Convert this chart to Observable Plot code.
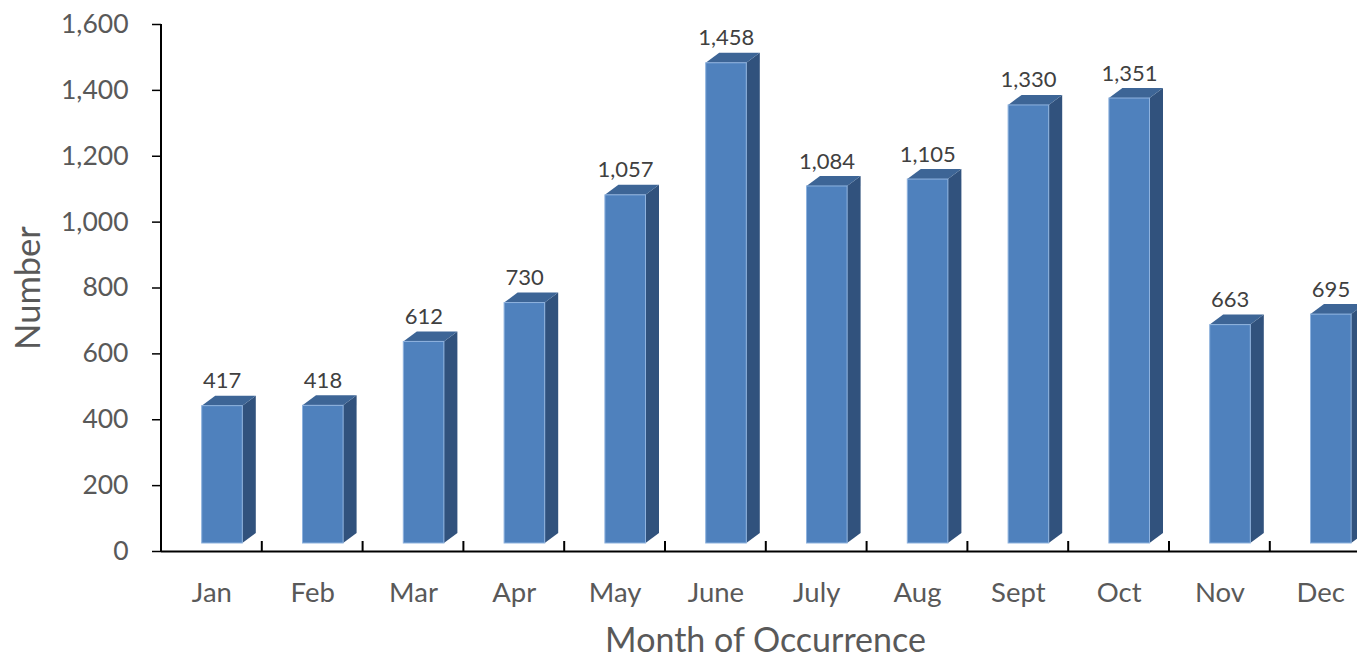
<!DOCTYPE html>
<html><head><meta charset="utf-8">
<script src="https://cdn.jsdelivr.net/npm/d3@7"></script>
<script src="https://cdn.jsdelivr.net/npm/@observablehq/plot@0.6"></script>
<style>html,body{margin:0;padding:0;background:#fff;overflow:hidden;width:1357px;height:659px}</style>
</head><body><div id="chart"></div>
<script>
const months = ["Jan","Feb","Mar","Apr","May","June","July","Aug","Sept","Oct","Nov","Dec"];
const counts = [417,418,612,730,1057,1458,1084,1105,1330,1351,663,695];
const yTicks = [0,200,400,600,800,1000,1200,1400,1600];
const yTitle = "Number";
const xTitle = "Month of Occurrence";

const data = months.map((m, i) => ({month: m, count: counts[i]}));

const W = 1357, H = 659;
const X0 = 161, BAND = 100.8;
const FRONT_L = 40.7, FRONT_W = 40.6;
const DX = 13.5, DY = 10, LIFT = 8;
const FRONT = "#4F81BD", SIDE = "#31527D", TOP = "#3D6596";
const fmt = d3.format(",");

function depthFaces(index, scales, values, dim) {
  const g = d3.create("svg:g");
  for (const d of data) {
    const x1 = scales.x(d.month) + FRONT_L, x2 = x1 + FRONT_W;
    const y0 = scales.y(0) - LIFT, yv = scales.y(d.count) - LIFT;
    g.append("path")
      .attr("d", `M${x2},${y0}L${x2 + DX},${y0 - DY}L${x2 + DX},${yv - DY}L${x2},${yv}Z`)
      .attr("fill", SIDE);
    g.append("path")
      .attr("d", `M${x1},${yv}L${x1 + DX},${yv - DY}L${x2 + DX},${yv - DY}L${x2},${yv}Z`)
      .attr("fill", TOP);
  }
  return g.node();
}

function axisLines(index, scales, values, dim) {
  const g = d3.create("svg:g").attr("stroke", "black");
  const yb = scales.y(0), yt = scales.y(yTicks[yTicks.length - 1]);
  g.append("line").attr("x1", dim.marginLeft).attr("x2", dim.marginLeft)
    .attr("y1", yt).attr("y2", yb + 1).attr("stroke-width", 2);
  months.forEach((m, i) => {
    if (i === 0) return;
    const x = scales.x(m);
    g.append("line").attr("x1", x).attr("x2", x).attr("y1", yb).attr("y2", yb - 10).attr("stroke-width", 2);
  });
  return g.node();
}

const chart = Plot.plot({
  width: W,
  height: H,
  marginLeft: X0,
  marginRight: 0,
  marginTop: 24,
  marginBottom: 108,
  style: {fontFamily: "Lato, sans-serif", background: "white"},
  x: {type: "band", domain: months, range: [X0, X0 + 12 * BAND], padding: 0, round: false},
  y: {domain: [0, 1600]},
  marks: [
    depthFaces,
    Plot.barY(data, {x: "month", y: "count", fill: FRONT, stroke: "#8EB2DE", strokeWidth: 1,
      insetLeft: FRONT_L, insetRight: BAND - FRONT_L - FRONT_W, dy: -LIFT}),
    Plot.text(data, {x: "month", y: "count", text: d => fmt(d.count), dx: 10.3, dy: -33,
      fontSize: 22, fill: "#404040"}),
    Plot.ruleY([0], {stroke: "black", strokeWidth: 2}),
    axisLines,
    Plot.axisY({ticks: yTicks, tickFormat: fmt, tickSize: 9, tickPadding: 24, fontSize: 26.5,
      fill: "#595959", stroke: "black", strokeWidth: 1.5, label: null}),
    Plot.axisX({tickSize: 0, tickPadding: 31, fontSize: 27.5, fill: "#595959", label: null}),
    Plot.text([yTitle], {frameAnchor: "left", dx: -133, rotate: -90, fontSize: 34.5, fill: "#595959",
      textAnchor: "middle", lineAnchor: "middle"}),
    Plot.text([xTitle], {frameAnchor: "bottom", dx: 6, dy: 90, fontSize: 34, fill: "#595959",
      textAnchor: "middle", lineAnchor: "middle"})
  ]
});
document.getElementById("chart").appendChild(chart);
</script>
</body></html>
